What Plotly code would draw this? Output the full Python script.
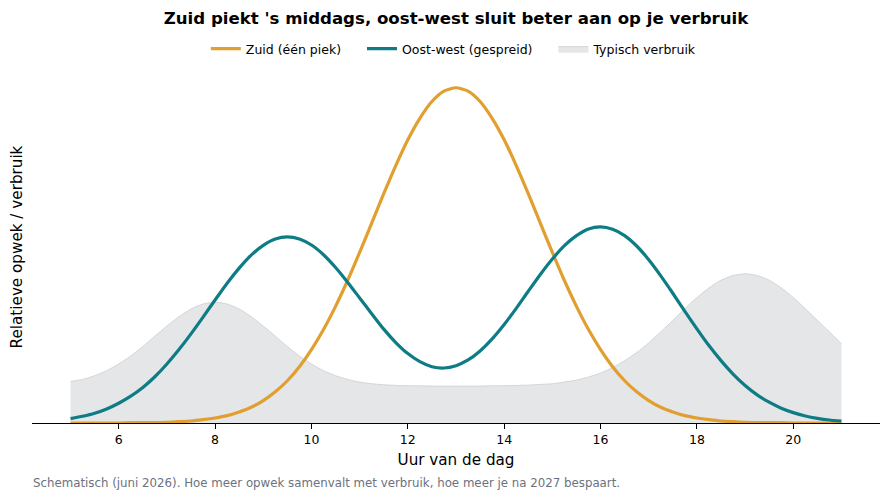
import plotly.graph_objects as go

hours = [5.0, 5.25, 5.5, 5.75, 6.0, 6.25, 6.5, 6.75, 7.0, 7.25, 7.5, 7.75,
         8.0, 8.25, 8.5, 8.75, 9.0, 9.25, 9.5, 9.75, 10.0, 10.25, 10.5, 10.75,
         11.0, 11.25, 11.5, 11.75, 12.0, 12.25, 12.5, 12.75, 13.0, 13.25, 13.5, 13.75,
         14.0, 14.25, 14.5, 14.75, 15.0, 15.25, 15.5, 15.75, 16.0, 16.25, 16.5, 16.75,
         17.0, 17.25, 17.5, 17.75, 18.0, 18.25, 18.5, 18.75, 19.0, 19.25, 19.5, 19.75,
         20.0, 20.25, 20.5, 20.75, 21.0]

zuid = [0.000, 0.000, 0.000, 0.000, 0.000, 0.001, 0.001, 0.001, 0.002, 0.004, 0.006, 0.010,
        0.015, 0.022, 0.033, 0.047, 0.067, 0.093, 0.126, 0.168, 0.219, 0.279, 0.348, 0.425,
        0.509, 0.596, 0.684, 0.768, 0.845, 0.909, 0.959, 0.990, 1.000, 0.990, 0.959, 0.909,
        0.845, 0.768, 0.684, 0.596, 0.509, 0.425, 0.348, 0.279, 0.219, 0.168, 0.126, 0.093,
        0.067, 0.047, 0.033, 0.022, 0.015, 0.010, 0.006, 0.004, 0.002, 0.001, 0.001, 0.001,
        0.000, 0.000, 0.000, 0.000, 0.000]

oost_west = [0.013, 0.020, 0.029, 0.042, 0.059, 0.080, 0.106, 0.138, 0.176, 0.219, 0.266, 0.316,
             0.367, 0.417, 0.462, 0.501, 0.530, 0.549, 0.555, 0.549, 0.531, 0.502, 0.464, 0.420,
             0.373, 0.326, 0.280, 0.240, 0.207, 0.183, 0.168, 0.164, 0.171, 0.188, 0.215, 0.251,
             0.294, 0.342, 0.393, 0.443, 0.489, 0.529, 0.559, 0.579, 0.585, 0.578, 0.559, 0.528,
             0.487, 0.439, 0.387, 0.333, 0.281, 0.231, 0.186, 0.146, 0.112, 0.084, 0.062, 0.044,
             0.031, 0.021, 0.014, 0.009, 0.006]

verbruik = [0.124, 0.130, 0.141, 0.156, 0.176, 0.200, 0.228, 0.259, 0.289, 0.317, 0.340, 0.355,
            0.360, 0.355, 0.340, 0.317, 0.289, 0.259, 0.228, 0.200, 0.176, 0.156, 0.141, 0.130,
            0.122, 0.117, 0.114, 0.112, 0.111, 0.111, 0.110, 0.110, 0.110, 0.110, 0.110, 0.111,
            0.111, 0.112, 0.113, 0.115, 0.117, 0.122, 0.128, 0.137, 0.149, 0.165, 0.186, 0.210,
            0.239, 0.272, 0.306, 0.341, 0.374, 0.403, 0.426, 0.440, 0.445, 0.440, 0.426, 0.403,
            0.374, 0.341, 0.306, 0.272, 0.236]

x_ticks = [6, 8, 10, 12, 14, 16, 18, 20]

FONT = "DejaVu Sans"
PAD = "\u00a0" * 4

fig = go.Figure()
fig.add_trace(go.Scatter(
    x=hours, y=verbruik, name="Typisch verbruik", mode="lines",
    line=dict(color="#d4d5d8", width=1, shape="spline", smoothing=0.6),
    fill="tozeroy", fillcolor="#e5e6e8", legendrank=3,
))
fig.add_trace(go.Scatter(
    x=hours, y=zuid, name="Zuid (één piek)" + PAD, mode="lines",
    line=dict(color="#e09f2e", width=3.2, shape="spline", smoothing=0.6),
    legendrank=1,
))
fig.add_trace(go.Scatter(
    x=hours, y=oost_west, name="Oost-west (gespreid)" + PAD, mode="lines",
    line=dict(color="#0e7c84", width=3.2, shape="spline", smoothing=0.6),
    legendrank=2,
))

fig.update_layout(
    width=889, height=499,
    margin=dict(l=32, r=9, t=71, b=76),
    paper_bgcolor="white", plot_bgcolor="white",
    font=dict(family=FONT, color="black"),
    title=dict(
        text="<b>Zuid piekt 's middags, oost-west sluit beter aan op je verbruik</b>",
        xref="paper", x=0.5, xanchor="center", y=0.963, yanchor="middle",
        font=dict(size=16.6, family=FONT, color="black"),
    ),
    legend=dict(
        orientation="h", x=0.205, xanchor="left", y=1.0625, yanchor="middle",
        font=dict(size=12.5, family=FONT), itemwidth=30, bgcolor="rgba(0,0,0,0)",
        traceorder="normal",
    ),
    showlegend=True,
    xaxis=dict(
        range=[4.2, 21.8], tickvals=x_ticks, ticktext=[str(t) for t in x_ticks],
        showgrid=False, zeroline=False, showline=True, linecolor="black", linewidth=1.2,
        ticks="outside", ticklen=5, tickwidth=1, tickcolor="black",
        tickfont=dict(size=12.5, family=FONT),
        title=dict(text="Uur van de dag", font=dict(size=15.2, family=FONT), standoff=8),
    ),
    yaxis=dict(
        range=[0, 1.05], showgrid=False, zeroline=False, showline=False,
        showticklabels=False, ticks="",
        title=dict(text="Relatieve opwek / verbruik", font=dict(size=15.2, family=FONT), standoff=4),
    ),
    annotations=[dict(
        text="Schematisch (juni 2026). Hoe meer opwek samenvalt met verbruik, hoe meer je na 2027 bespaart.",
        xref="paper", yref="paper", x=-0.001, y=-0.17, xanchor="left", yanchor="middle",
        showarrow=False, font=dict(size=11.8, family=FONT, color="#6b7280"),
    )],
)

fig.write_html("out.html")
